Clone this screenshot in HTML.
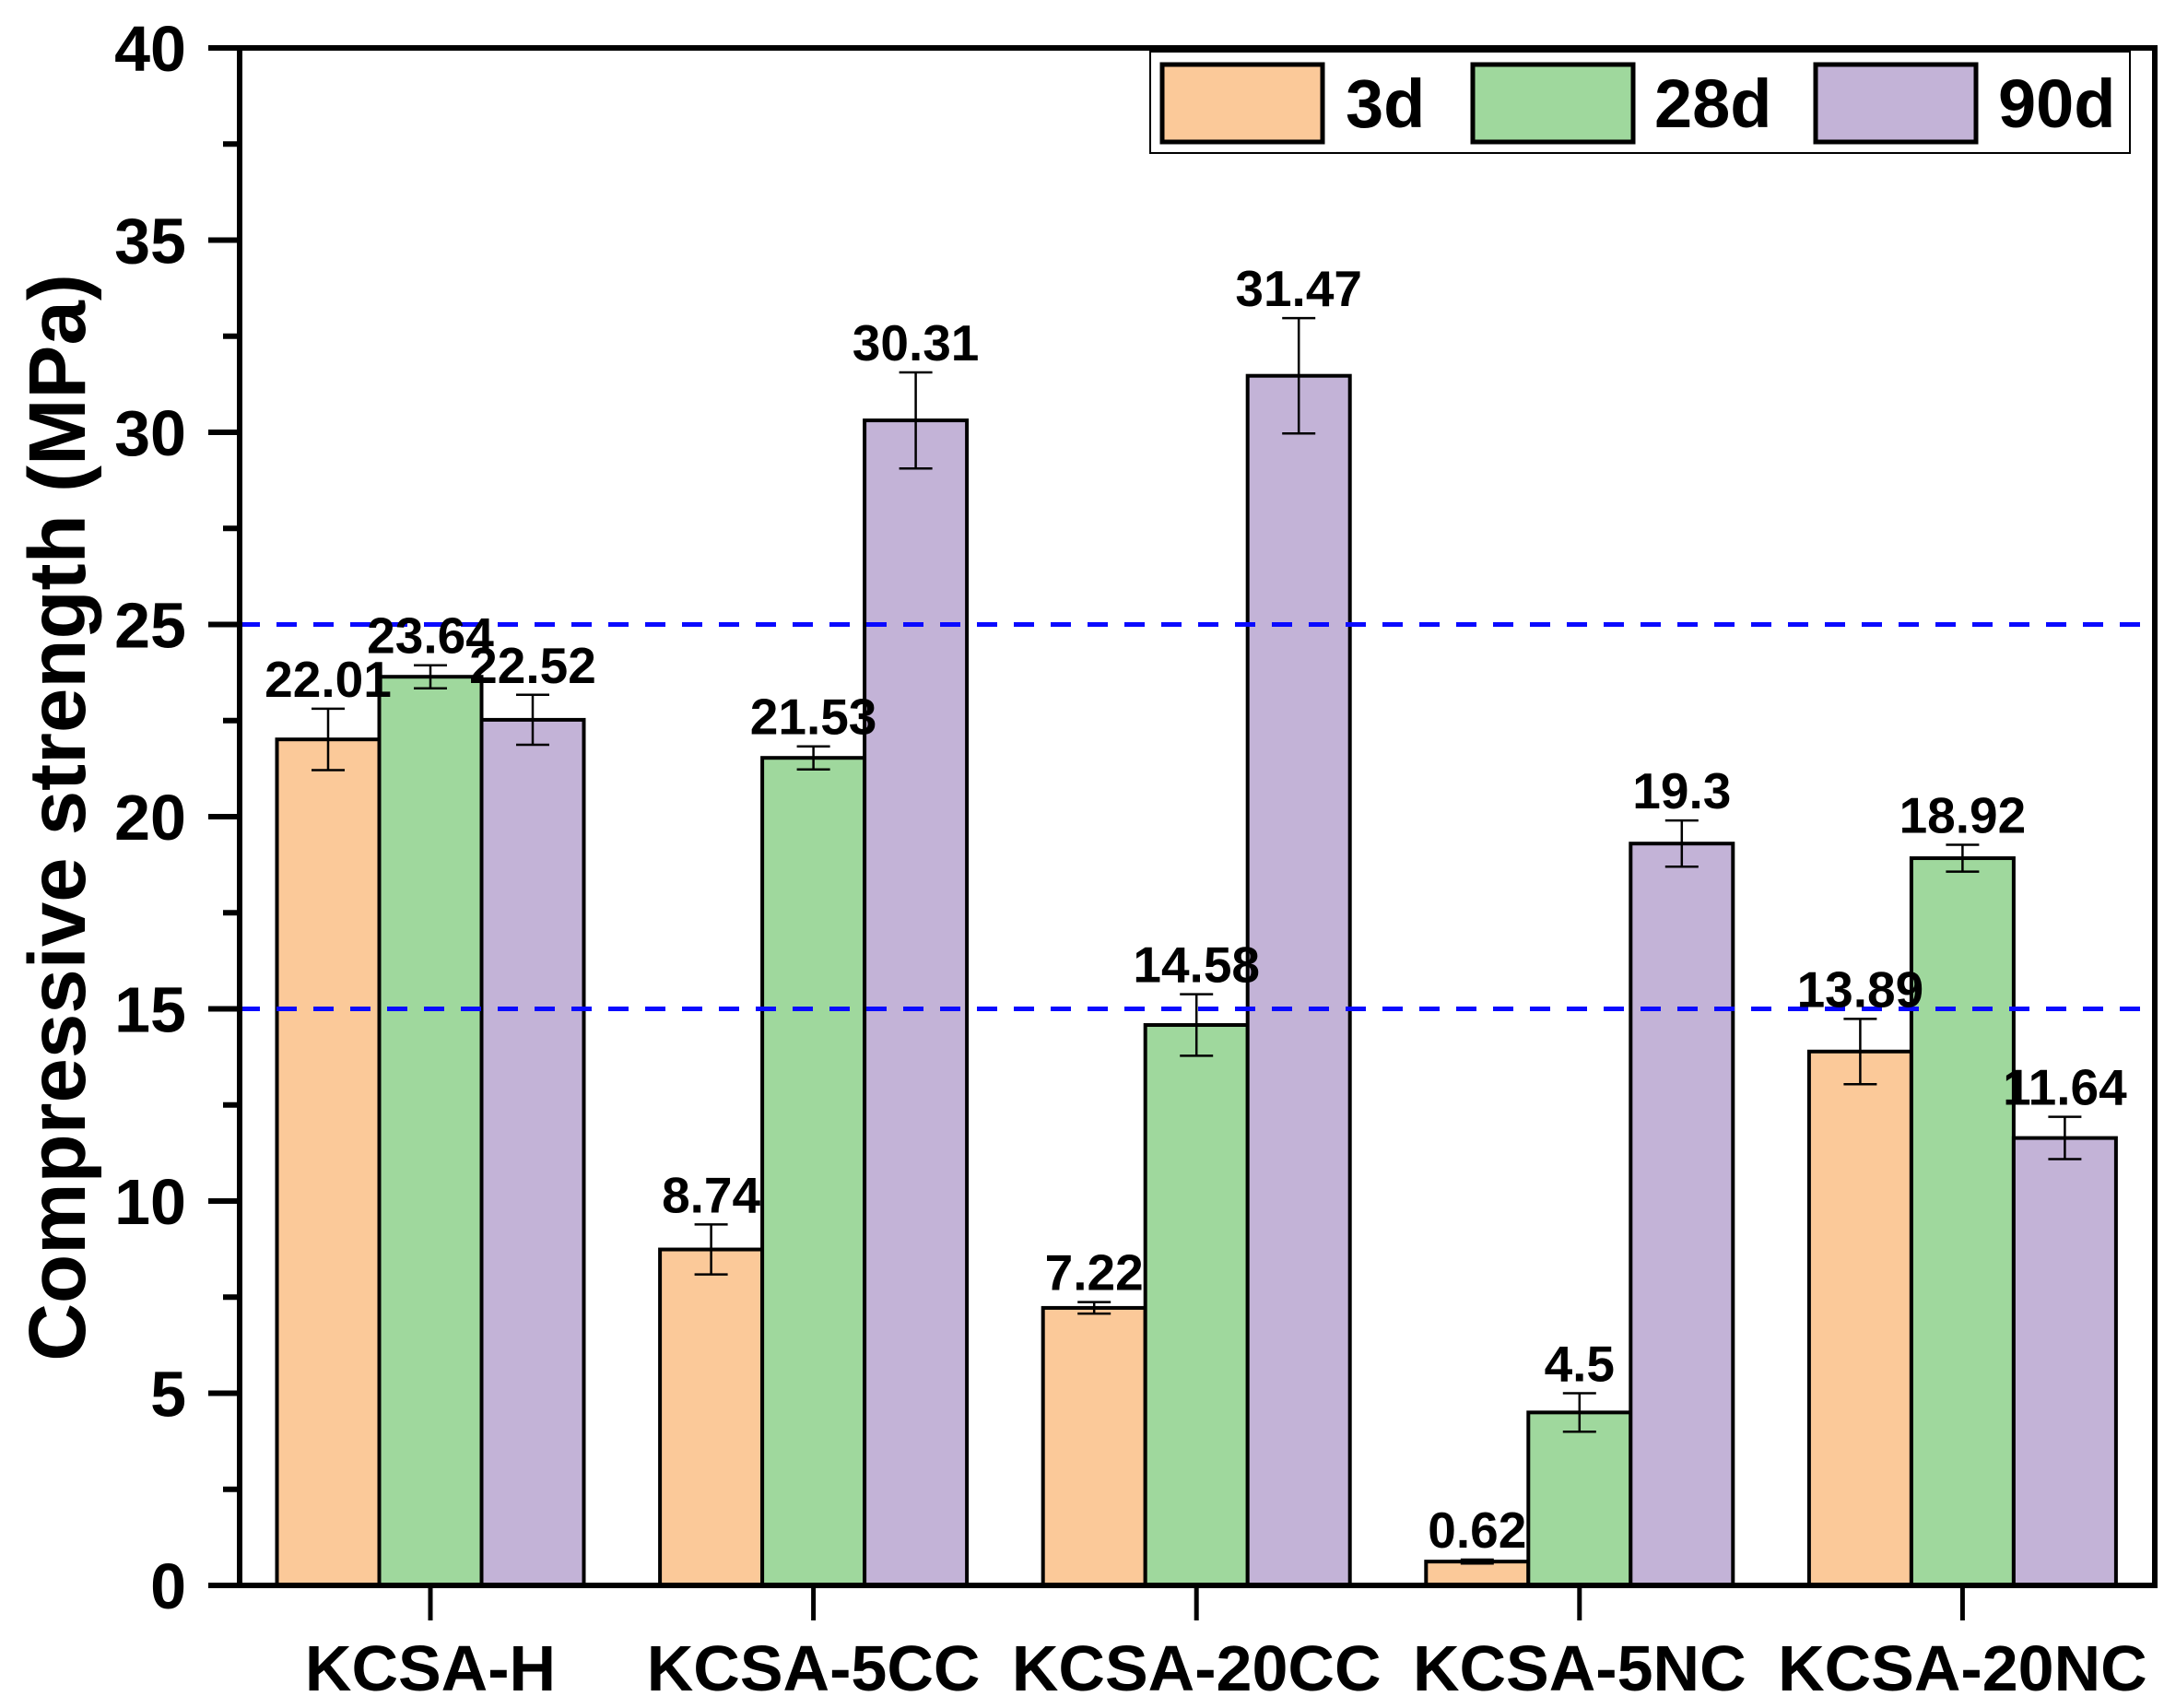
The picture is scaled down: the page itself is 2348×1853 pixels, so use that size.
<!DOCTYPE html>
<html><head><meta charset="utf-8"><style>
html,body{margin:0;padding:0;background:#fff;}
svg{display:block;font-family:"Liberation Sans",Arial,sans-serif;font-weight:bold;}
</style></head><body>
<svg id="chart" width="2348" height="1853" viewBox="0 0 2348 1853" xmlns="http://www.w3.org/2000/svg"></svg>
<script>
const categories = ["KCSA-H","KCSA-5CC","KCSA-20CC","KCSA-5NC","KCSA-20NC"];
const seriesNames = ["3d","28d","90d"];
const values3d = [22.01, 8.74, 7.22, 0.62, 13.89];
const values28d = [23.64, 21.53, 14.58, 4.5, 18.92];
const values90d = [22.52, 30.31, 31.47, 19.3, 11.64];
const errors3d = [0.8, 0.65, 0.15, 0.05, 0.85];
const errors28d = [0.3, 0.3, 0.8, 0.5, 0.35];
const errors90d = [0.65, 1.25, 1.5, 0.6, 0.55];
const labels3d = ["22.01","8.74","7.22","0.62","13.89"];
const labels28d = ["23.64","21.53","14.58","4.5","18.92"];
const labels90d = ["22.52","30.31","31.47","19.3","11.64"];
const yTicks = [0,5,10,15,20,25,30,35,40];
const refLines = [15,25];

const colors = ["#fbc999","#9fd89d","#c3b3d7"];
const NS = "http://www.w3.org/2000/svg";
const svg = document.getElementById("chart");
const L=260, R=2338, T=52, B=1720;
const yMin=0, yMax=40;
const y = v => B - (v-yMin)/(yMax-yMin)*(B-T);
const groupW = (R-L)/categories.length;
const x0 = i => 467 + i*groupW;
const barW = 111;

function mk(tag, attrs){const e=document.createElementNS(NS,tag);for(const k in attrs)e.setAttribute(k,attrs[k]);svg.appendChild(e);return e;}

const allVals=[values3d,values28d,values90d];
const allErr=[errors3d,errors28d,errors90d];
const allLab=[labels3d,labels28d,labels90d];

for(let s=0;s<3;s++){
  for(let i=0;i<categories.length;i++){
    const v=allVals[s][i], e=allErr[s][i];
    const bx = x0(i) - 1.5*barW + s*barW;
    const r = mk("rect",{x:bx,y:y(v),width:barW,height:y(0)-y(v),fill:colors[s],stroke:"#000","stroke-width":4});
    
    
    const cx = bx+barW/2;
    const g = mk("path",{d:`M${cx},${y(v+e)}V${y(v-e)}M${cx-18},${y(v+e)}H${cx+18}M${cx-18},${y(v-e)}H${cx+18}`,stroke:"#000","stroke-width":2.5,fill:"none"});
    
    
  }
}
refLines.forEach(v=>{
  const l=mk("line",{x1:L,x2:R,y1:y(v),y2:y(v),stroke:"#0a0aff","stroke-width":5,"stroke-dasharray":"22,18"});
  
  
});
for(let s=0;s<3;s++){
  for(let i=0;i<categories.length;i++){
    const v=allVals[s][i], e=allErr[s][i];
    const cx = x0(i) - 1.5*barW + s*barW + barW/2;
    const t=mk("text",{x:cx,y:y(v+e)-13,"text-anchor":"middle","font-size":55,fill:"#000"});
    t.textContent=allLab[s][i];
    
    
  }
}
const fr=mk("path",{d:`M${L},${T}H${R}V${B}H${L}Z`,fill:"none",stroke:"#000","stroke-width":6});


yTicks.forEach(v=>{
  const tk=mk("line",{x1:L-34,x2:L,y1:y(v),y2:y(v),stroke:"#000","stroke-width":6});
  
  
  const t=mk("text",{x:202,y:y(v)+25,"text-anchor":"end","font-size":70});
  t.textContent=v;
  
  
  if(v<yMax){
    const m=mk("line",{x1:L-18,x2:L,y1:y(v+2.5),y2:y(v+2.5),stroke:"#000","stroke-width":6});
    
    
  }
});
categories.forEach((c,i)=>{
  const tk=mk("line",{x1:x0(i),x2:x0(i),y1:B,y2:B+38,stroke:"#000","stroke-width":5});
  
  
  const t=mk("text",{x:x0(i),y:1834,"text-anchor":"middle","font-size":70});
  t.textContent=c;
  
  
});
const yt=mk("text",{x:0,y:0,"text-anchor":"middle","font-size":87,transform:"translate(92,887) rotate(-90)"});
yt.textContent="Compressive strength (MPa)";


const lb=mk("rect",{x:1248,y:56,width:1063,height:110,fill:"#fff",stroke:"#000","stroke-width":2});


const swX=[1261,1598,1970], txX=[1460,1795,2168];
seriesNames.forEach((n,s)=>{
  const sw=mk("rect",{x:swX[s],y:70,width:174,height:84,fill:colors[s],stroke:"#000","stroke-width":5});
  
  
  const t=mk("text",{x:txX[s],y:138,"font-size":74});
  t.textContent=n;
  
  
});
</script>
</body></html>
